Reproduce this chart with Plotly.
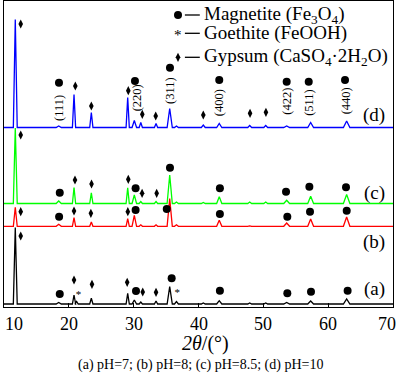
import plotly.graph_objects as go

# ---------------- data ----------------
# peak positions (2theta, deg) and half base widths of the diffraction peaks
peak_pos = [11.74, 18.44, 20.8, 21.2, 23.47, 29.08, 30.1, 31.1, 33.45, 35.56, 36.6,
            40.74, 43.2, 47.9, 50.37, 53.6, 57.3, 62.85]
peak_hw = [0.3, 0.4, 0.25, 0.25, 0.25, 0.25, 0.35, 0.25, 0.25, 0.4, 0.3,
           0.3, 0.4, 0.3, 0.3, 0.45, 0.45, 0.5]

# peak heights (arb. units) for each sample
height_a = [76.5, 1.5, 9.0, 2.5, 5.7, 10.7, 4.0, 2.0, 3.0, 17.3, 2.5, 1.0, 3.3, 1.0, 1.0, 1.5, 3.0, 5.0]
height_b = [19.0, 2.0, 8.7, 0.0, 4.3, 7.7, 11.0, 1.5, 1.5, 27.7, 1.5, 0.5, 6.0, 0.5, 0.5, 3.3, 7.3, 9.3]
height_c = [75.5, 2.5, 16.0, 0.0, 10.7, 15.7, 8.5, 2.0, 2.0, 28.5, 1.5, 1.0, 6.7, 1.5, 1.5, 3.3, 7.3, 9.0]
height_d = [108.0, 1.5, 33.0, 0.0, 15.0, 30.0, 7.0, 5.0, 4.0, 19.0, 1.5, 2.5, 4.0, 2.0, 2.0, 1.5, 5.0, 6.5]

# vertical offsets of the stacked patterns
offset_a, offset_b, offset_c, offset_d = 3.0, 80.7, 103.5, 179.5

series_names = ["(a)", "(b)", "(c)", "(d)"]
series_colors = ["#000000", "#ff0000", "#00ff00", "#0000ff"]
series_label_y = [18.0, 64.7, 114.3, 192.0]

# phase marks: (phase, 2theta, y) ; m = magnetite, o = goethite, g = gypsum
marks_a = [("g", 12.58, 71), ("m", 18.6, 13), ("g", 20.8, 27), ("o", 21.5, 11.3), ("g", 23.57, 22.7),
           ("g", 29.0, 24.7), ("m", 30.36, 16), ("g", 31.4, 15), ("g", 33.45, 14.7), ("m", 35.86, 28.7),
           ("o", 36.73, 13.7), ("m", 43.3, 16.3), ("m", 53.7, 13.7), ("m", 57.35, 15.3), ("m", 63.0, 16.3)]
marks_b = [("g", 12.58, 95.3), ("m", 18.5, 90.3), ("g", 20.8, 96), ("g", 23.4, 93.7), ("g", 29.1, 95.3),
           ("m", 30.3, 97), ("m", 35.1, 98), ("m", 43.3, 93), ("m", 53.7, 90.3), ("m", 57.2, 95.3),
           ("m", 62.86, 96.3)]
marks_c = [("g", 12.58, 172), ("m", 18.6, 114.3), ("g", 20.95, 127), ("g", 23.5, 123), ("g", 29.17, 127.7),
           ("m", 30.3, 118.7), ("g", 31.3, 113.7), ("g", 33.55, 113.7), ("m", 35.6, 139.3),
           ("m", 43.3, 118.7), ("m", 53.5, 115.3), ("m", 57.1, 120.3), ("m", 62.75, 119.7)]
marks_d = [("g", 12.58, 283), ("m", 18.48, 224.3), ("g", 21.0, 221), ("g", 23.47, 201), ("g", 29.17, 216.3),
           ("m", 30.2, 226), ("g", 31.33, 192.7), ("g", 33.4, 191), ("m", 35.6, 239.3), ("g", 40.74, 192),
           ("m", 43.2, 227), ("g", 47.95, 193.7), ("g", 50.4, 194.7), ("m", 53.6, 225.3),
           ("m", 57.0, 225.3), ("m", 62.6, 227)]

# Miller indices of magnetite for pattern (d)
hkl_labels = ["(111)", "(220)", "(311)", "(400)", "(422)", "(511)", "(440)"]
hkl_x = [18.48, 30.56, 35.6, 43.2, 53.6, 57.05, 62.7]
hkl_y = [199, 209, 217, 204, 206, 204.2, 206.3]

legend_texts = ["Magnetite (Fe<sub>3</sub>O<sub>4</sub>)", "Goethite (FeOOH)",
                "Gypsum (CaSO<sub>4</sub>·2H<sub>2</sub>O)"]
legend_kinds = ["m", "o", "g"]
legend_y = [292, 273.7, 249.7]

tick_values = [10, 20, 30, 40, 50, 60, 70]
tick_labels = ["10", "20", "30", "40", "50", "60", "70"]

caption = "(a) pH=7; (b) pH=8; (c) pH=8.5; (d) pH=10"

FONT = "Liberation Serif"

fig = go.Figure()


def pattern(heights, base):
    xs, ys = [10.0], [base]
    for p, w, h in zip(peak_pos, peak_hw, heights):
        if h <= 0:
            continue
        xs += [p - w, p, p + w]
        ys += [base, base + h, base]
    xs.append(70.0)
    ys.append(base)
    return xs, ys


for hts, off, col in zip([height_a, height_b, height_c, height_d],
                         [offset_a, offset_b, offset_c, offset_d], series_colors):
    xs, ys = pattern(hts, off)
    fig.add_trace(go.Scatter(x=xs, y=ys, mode="lines", line=dict(color=col, width=1.3),
                             showlegend=False, hoverinfo="skip"))

all_marks = marks_a + marks_b + marks_c + marks_d
mx = [m[1] for m in all_marks if m[0] == "m"]
my = [m[2] for m in all_marks if m[0] == "m"]
gx = [m[1] for m in all_marks if m[0] == "g"]
gy = [m[2] for m in all_marks if m[0] == "g"]
ox = [m[1] for m in all_marks if m[0] == "o"]
oy = [m[2] for m in all_marks if m[0] == "o"]

fig.add_trace(go.Scatter(x=mx, y=my, mode="markers", showlegend=False, hoverinfo="skip",
                         marker=dict(symbol="circle", size=8, color="black")))
fig.add_trace(go.Scatter(x=gx, y=gy, mode="markers", showlegend=False, hoverinfo="skip",
                         marker=dict(symbol="diamond-tall", size=6.6, color="black")))
fig.add_trace(go.Scatter(x=ox, y=oy, mode="text", text=["*"] * len(ox), showlegend=False,
                         hoverinfo="skip", textfont=dict(family=FONT, size=11, color="black"),
                         textposition="middle center"))

# legend (custom)
leg_sym_x = 36.84
for txt, kind, ly in zip(legend_texts, legend_kinds, legend_y):
    if kind == "m":
        fig.add_trace(go.Scatter(x=[leg_sym_x], y=[ly], mode="markers", showlegend=False,
                                 hoverinfo="skip",
                                 marker=dict(symbol="circle", size=8, color="black")))
    elif kind == "g":
        fig.add_trace(go.Scatter(x=[leg_sym_x], y=[ly], mode="markers", showlegend=False,
                                 hoverinfo="skip",
                                 marker=dict(symbol="diamond-tall", size=6.6, color="black")))
    else:
        fig.add_annotation(x=leg_sym_x, y=ly - 1.5, text="*", showarrow=False,
                           font=dict(family=FONT, size=15, color="black"),
                           xanchor="center", yanchor="middle")
    fig.add_shape(type="line", x0=37.9, x1=40.2, y0=ly, y1=ly,
                  line=dict(color="black", width=1.3))
    fig.add_annotation(x=40.5, y=ly, text=txt, showarrow=False, xanchor="left", yanchor="middle",
                       font=dict(family=FONT, size=19, color="black"))

# hkl labels
for t, x, y in zip(hkl_labels, hkl_x, hkl_y):
    fig.add_annotation(x=x, y=y, text=t, textangle=-90, showarrow=False,
                       xanchor="center", yanchor="middle",
                       font=dict(family=FONT, size=12.5, color="black"))

# series labels
for name, y in zip(series_names, series_label_y):
    fig.add_annotation(x=67.1, y=y, text=name, showarrow=False,
                       xanchor="center", yanchor="middle",
                       font=dict(family=FONT, size=19, color="black"))

# x tick labels
for i, (v, lab) in enumerate(zip(tick_values, tick_labels)):
    if i == 0:
        anchor, shift = "left", -1
    elif i == len(tick_values) - 1:
        anchor, shift = "right", 5
    else:
        anchor, shift = "center", 0
    fig.add_annotation(x=v, y=0, xref="x", yref="paper", text=lab, showarrow=False,
                       xanchor=anchor, yanchor="middle", xshift=shift, yshift=-16.5,
                       font=dict(family=FONT, size=18, color="black"))

# axis title and caption
fig.add_annotation(x=0.517, y=0, xref="paper", yref="paper", text="<i>2θ</i>/(°)",
                   showarrow=False, xanchor="center", yanchor="middle", yshift=-36,
                   font=dict(family=FONT, size=20, color="black"))
fig.add_annotation(x=0.506, y=0, xref="paper", yref="paper", text=caption,
                   showarrow=False, xanchor="center", yanchor="middle", yshift=-58,
                   font=dict(family=FONT, size=14, color="black"))

fig.update_layout(
    width=400, height=378,
    margin=dict(l=4, r=7, t=1, b=71),
    paper_bgcolor="white", plot_bgcolor="white",
    showlegend=False,
    font=dict(family=FONT, color="black"),
    xaxis=dict(range=[10, 70], showgrid=False, zeroline=False, showline=True, mirror=True,
               linecolor="black", linewidth=1.3, ticks="inside", ticklen=4, tickwidth=1,
               tickcolor="black", tickvals=tick_values, showticklabels=False),
    yaxis=dict(range=[0, 306], showgrid=False, zeroline=False, showline=True, mirror=True,
               linecolor="black", linewidth=1.3, ticks="", showticklabels=False),
)

fig.write_html("out.html", config={"displayModeBar": False},
               post_script="document.body.style.margin='0';document.body.style.overflow='hidden';")
